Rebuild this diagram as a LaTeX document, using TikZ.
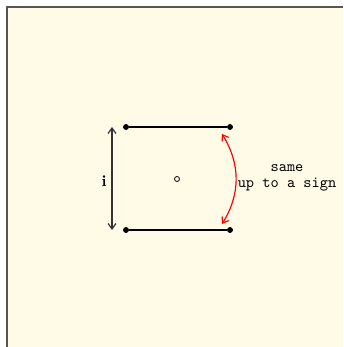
\documentclass[tikz,border=0pt]{standalone}
\usetikzlibrary{arrows.meta}
\definecolor{bgcream}{HTML}{FFFBE7}
\definecolor{framegray}{HTML}{555555}
\tikzset{
  dotpt/.style={circle,fill=black,inner sep=0pt,minimum size=3.8pt},
  seg/.style={line width=0.75pt,black},
  barb/.style={line width=0.75pt,{Straight Barb[length=3.5pt,width=5pt]}-{Straight Barb[length=3.5pt,width=5pt]}},
}
\begin{document}
\begin{tikzpicture}[x=0.64pt,y=0.64pt]
\useasboundingbox (0,0) rectangle (343,347);
\fill[bgcream] (7,0) rectangle (343,340);
\coordinate (FB) at (7,0);
\coordinate (FC) at (7,340);
\coordinate (FR) at (343,340);
\draw[framegray,line width=0.8pt] (FB) -- (FC) -- (FR);
\node[dotpt] (TL) at (126,220) {};
\node[dotpt] (TR) at (230,220) {};
\node[dotpt] (BL) at (126,117) {};
\node[dotpt] (BR) at (230,117) {};
\draw[seg] (TL) -- (TR);
\draw[seg] (BL) -- (BR);
\node[circle,draw,line width=0.5pt,inner sep=0pt,minimum size=3.2pt,fill=bgcream] (C) at (177,168) {};
\coordinate (AT) at (112,220);
\coordinate (AB) at (112,117);
\draw[barb,black!80] (AT) -- (AB);
\node (I) at (104,166) {\textbf{i}};
\coordinate (RT) at (222,213);
\coordinate (RB) at (222,123);
\draw[barb,red] (RT) to[bend left=32] (RB);
\node[align=center,font=\ttfamily,inner sep=0pt] (T) at (287,169) {same\\[-2pt]up to a sign};
\end{tikzpicture}
\end{document}
